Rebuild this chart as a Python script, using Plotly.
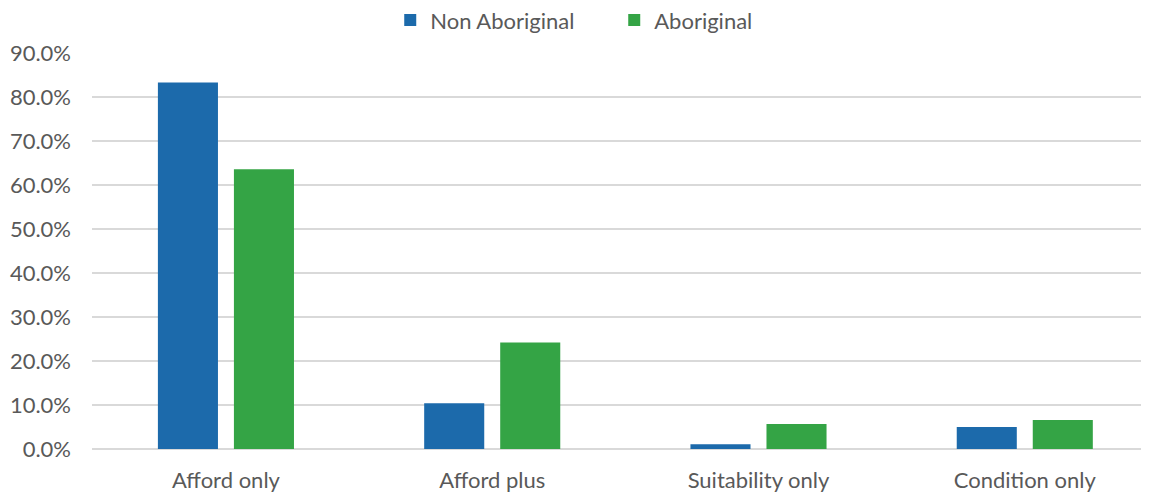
import plotly.graph_objects as go

categories = ["Afford only", "Afford plus", "Suitability only", "Condition only"]
non_aboriginal = [83.3, 10.4, 1.1, 5.0]
aboriginal = [63.6, 24.2, 5.7, 6.6]

fig = go.Figure()
fig.add_trace(go.Bar(x=categories, y=non_aboriginal, name="Non Aboriginal",
                     marker_color="#1c6aab", marker_line_width=0))
fig.add_trace(go.Bar(x=categories, y=aboriginal, name="Aboriginal",
                     marker_color="#34a445", marker_line_width=0))

# page body has an 8px margin, so the figure is a bit smaller than the window
fig.update_layout(
    width=1141, height=486,
    margin=dict(l=84, r=2, t=45, b=45, autoexpand=False),
    paper_bgcolor="white", plot_bgcolor="white",
    font=dict(family="Lato", size=22, color="#595959"),
    barmode="group", bargap=0.429, bargroupgap=0.21,
    legend=dict(orientation="h", x=0.335, xanchor="left", xref="container",
                y=0.975, yanchor="middle", yref="container",
                font=dict(size=22), entrywidth=179, entrywidthmode="pixels",
                traceorder="normal"),
    # original chart is cropped on the right, so the last category runs off the edge
    xaxis=dict(range=[-0.503, 3.459], showgrid=False, showline=False, ticks="",
               ticklabelstandoff=16, automargin=False),
    yaxis=dict(range=[0, 90], dtick=10, tickformat=".1f", ticksuffix="%",
               showgrid=True, gridcolor="#d9d9d9", gridwidth=1.5,
               zeroline=True, zerolinecolor="#d9d9d9", zerolinewidth=1.5,
               showline=False, ticklabelstandoff=20, automargin=False),
)

fig.write_html("out.html")
